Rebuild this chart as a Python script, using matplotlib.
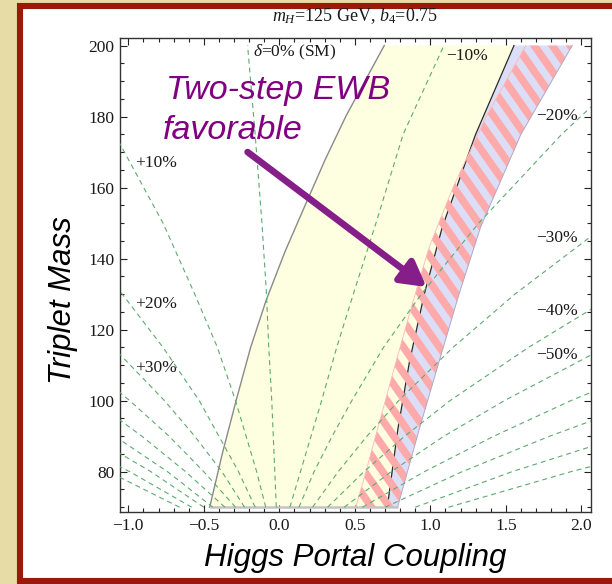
import numpy as np
import matplotlib
matplotlib.use("Agg")
import matplotlib.pyplot as plt
from matplotlib.patches import Polygon, Rectangle
from matplotlib.ticker import MultipleLocator
from matplotlib.collections import LineCollection
from matplotlib.transforms import IdentityTransform

# ---------------- data ----------------
x_ticks = [-1.0, -0.5, 0.0, 0.5, 1.0, 1.5, 2.0]
x_tick_labels = ["\u22121.0", "\u22120.5", "0.0", "0.5", "1.0", "1.5", "2.0"]
y_ticks = [80, 100, 120, 140, 160, 180, 200]
y_tick_labels = ["80", "100", "120", "140", "160", "180", "200"]

# left (gray) boundary of the two-step region
left_y = [70, 85, 100.2, 115, 128.3, 142, 155.7, 168, 180.2, 200]
left_x = [-0.461, -0.378, -0.285, -0.19, -0.087, 0.038, 0.178, 0.305, 0.442, 0.695]
# right (black) boundary of the two-step region
black_y = [70, 92, 111, 130, 149, 175, 200]
black_x = [0.715, 0.785, 0.862, 0.96, 1.08, 1.30, 1.554]
# outer edge of the lavender band
outer_y = [70, 92, 111, 130, 149, 175, 200]
outer_x = [0.783, 0.927, 1.058, 1.19, 1.334, 1.60, 1.94]
# inner edge of the hatched band
hatch_y = [70, 76.7, 93.8, 111, 127.4, 143.3, 160, 180, 200]
hatch_x = [0.505, 0.552, 0.662, 0.773, 0.882, 0.993, 1.15, 1.37, 1.632]

# dashed contours of delta: x positions at these masses
contour_y = [70, 80, 90, 100, 115, 130, 150, 175, 200]
contour_pos90 = [-0.66, -1.13]
contour_pos80 = [-0.58, -0.99, -1.46]
contour_pos70 = [-0.50, -0.85, -1.25]
contour_pos60 = [-0.44, -0.74, -1.09]
contour_pos50 = [-0.36, -0.62, -0.91, -1.23]
contour_pos40 = [-0.29, -0.50, -0.73, -0.99, -1.42]
contour_pos30 = [-0.23, -0.38, -0.56, -0.76, -1.10]
contour_pos20 = [-0.16, -0.27, -0.40, -0.53, -0.77, -1.04, -1.44]
contour_pos10 = [-0.09, -0.15, -0.22, -0.29, -0.41, -0.56, -0.77, -1.09]
contour_zero = [-0.02, -0.03, -0.04, -0.05, -0.07, -0.085, -0.115, -0.16, -0.21]
contour_neg10 = [0.07, 0.14, 0.21, 0.28, 0.38, 0.49, 0.64, 0.82, 1.09]
contour_neg20 = [0.13, 0.23, 0.35, 0.48, 0.69, 0.94, 1.32, 1.87, 2.50]
contour_neg30 = [0.22, 0.39, 0.58, 0.79, 1.15, 1.56, 2.18]
contour_neg40 = [0.32, 0.56, 0.83, 1.13, 1.65, 2.23]
contour_neg50 = [0.43, 0.74, 1.09, 1.49, 2.16]
contour_neg60 = [0.55, 0.96, 1.42, 1.93, 2.79]
contour_neg70 = [0.70, 1.21, 1.79, 2.43]
contour_neg80 = [0.90, 1.54, 2.28]
contour_neg90 = [1.12, 1.93, 2.85]
contours = [contour_pos90, contour_pos80, contour_pos70, contour_pos60, contour_pos50,
            contour_pos40, contour_pos30, contour_pos20, contour_pos10, contour_zero,
            contour_neg10, contour_neg20, contour_neg30, contour_neg40, contour_neg50,
            contour_neg60, contour_neg70, contour_neg80, contour_neg90]

# contour labels
label_texts = ["+10%", "+20%", "+30%", "\u221210%", "\u221220%", "\u221230%", "\u221240%", "\u221250%"]
label_x = [-0.957, -0.957, -0.957, 1.103, 1.698, 1.698, 1.698, 1.698]
label_y = [167.0, 127.2, 109.3, 197.1, 180.2, 145.9, 125.3, 112.8]

# ---------------- style ----------------
plt.rcParams["font.family"] = ["Liberation Serif", "DejaVu Serif"]
plt.rcParams["mathtext.fontset"] = "custom"
plt.rcParams["mathtext.rm"] = "Liberation Serif"
plt.rcParams["mathtext.it"] = "Liberation Serif:italic"

W, H = 612, 584
fig = plt.figure(figsize=(W / 100, H / 100), dpi=100, facecolor="#E8DCA6")
fig.add_artist(Rectangle((20 / W, 1 - 580.5 / H), (660 - 20) / W, (580.5 - 6) / H,
                         transform=fig.transFigure, facecolor="white",
                         edgecolor="#9A1A0A", linewidth=4.4, zorder=-5))

ax = fig.add_axes([119.7 / W, 1 - 511.5 / H, (590.7 - 119.7) / W, (511.5 - 37.7) / H])
ax.set_xlim(-1.057, 2.062)
ax.set_ylim(68.8, 202.2)

yellow = "#FEFEE0"
lavender = "#DCDDF6"
pink = "#FFAAAA"
green = "#5EAA6E"

# two-step region (yellow)
poly_y = list(zip(left_x, left_y)) + list(zip(black_x, black_y))[::-1]
ax.add_patch(Polygon(poly_y, closed=True, facecolor=yellow, edgecolor="none", zorder=1))
# lavender band
poly_l = list(zip(black_x, black_y)) + list(zip(outer_x, outer_y))[::-1]
ax.add_patch(Polygon(poly_l, closed=True, facecolor=lavender, edgecolor="none", zorder=1))
# black boundary line (under stripes)
ax.plot(black_x, black_y, color="#2A2A2A", lw=0.9, zorder=2)

# striped band: thick diagonal stripes clipped to the band polygon
poly_h = list(zip(hatch_x, hatch_y)) + list(zip(outer_x, outer_y))[::-1]
band = Polygon(poly_h, closed=True, facecolor="none", edgecolor="none", zorder=3)
ax.add_patch(band)
pts = ax.transData.transform(np.array(poly_h))
(xmin, ymin), (xmax, ymax) = pts.min(0), pts.max(0)
slope = np.tan(np.radians(55))
segs = []
for c in np.arange(xmin + ymin / slope - 20, xmax + ymax / slope + 20, 18.0):
    y0, y1 = ymin - 10, ymax + 10
    segs.append([(c - y0 / slope, y0), (c - y1 / slope, y1)])
stripes = LineCollection(segs, colors=pink, linewidths=5.4, transform=IdentityTransform(),
                         zorder=3, capstyle="butt")
stripes.set_clip_path(band)
ax.add_collection(stripes, autolim=False)

ax.plot(hatch_x, hatch_y, color="#FFB8B8", lw=0.6, zorder=3)
ax.plot(outer_x, outer_y, color="#B0A8C8", lw=0.7, zorder=3)
# gray left boundary and bottom edge
ax.plot(left_x, left_y, color="#8A8A8A", lw=1.0, zorder=4)
ax.plot([left_x[0], outer_x[0]], [left_y[0], outer_y[0]], color="#C4C4C4", lw=1.8, zorder=4,
        solid_capstyle="butt")

# contours
for xs in contours:
    ax.plot(xs, contour_y[:len(xs)], color=green, lw=0.8, dashes=(4.5, 3.5), zorder=5)

for t, x, y in zip(label_texts, label_x, label_y):
    ax.text(x, y, t, fontsize=12.5, ha="left", va="center", color="#1a1a1a", zorder=6)
ax.text(-0.177, 198.1, r"$\delta$=0% (SM)", fontsize=12.5, ha="left", va="center",
        color="#1a1a1a", zorder=6)

# annotation
ax.annotate("", xy=(0.975, 132.0), xytext=(-0.21, 170.0),
            arrowprops=dict(arrowstyle="-|>,head_length=0.75,head_width=0.42",
                            color="#861E8A", lw=4.8, mutation_scale=20,
                            shrinkA=0, shrinkB=0), zorder=7)
ax.text(-0.752, 184.8, "Two-step EWB", fontsize=24.5, style="italic", family="Liberation Sans",
        color="#800080", ha="left", va="baseline", zorder=7)
ax.text(-0.772, 173.6, "favorable", fontsize=24.5, style="italic", family="Liberation Sans",
        color="#800080", ha="left", va="baseline", zorder=7)

# axes styling
ax.set_xticks(x_ticks, labels=x_tick_labels)
ax.set_yticks(y_ticks, labels=y_tick_labels)
ax.xaxis.set_minor_locator(MultipleLocator(0.1))
ax.yaxis.set_minor_locator(MultipleLocator(5))
ax.tick_params(which="both", direction="in", top=True, right=True, width=0.8,
               color="#222222", labelsize=12.5, labelcolor="#1a1a1a")
ax.tick_params(which="major", length=5)
ax.tick_params(which="minor", length=3)
ax.tick_params(axis="x", pad=5)
ax.tick_params(axis="y", pad=4)
for s in ax.spines.values():
    s.set_linewidth(1.0)
    s.set_color("#333333")

fig.text(355 / W, 1 - 16 / H, r"$m_H$=125 GeV, $b_4$=0.75", ha="center", va="center",
         fontsize=13, color="#1a1a1a")
fig.text(355 / W, 1 - 558 / H, "Higgs Portal Coupling", ha="center", va="center",
         fontsize=22.5, style="italic", family="Liberation Sans", color="black")
fig.text(63 / W, 1 - 300 / H, "Triplet Mass", ha="center", va="center", rotation=90,
         fontsize=22.5, style="italic", family="Liberation Sans", color="black",
         bbox=dict(facecolor="white", edgecolor="none", pad=9.5))

fig.savefig("out.png", dpi=100, facecolor=fig.get_facecolor())
